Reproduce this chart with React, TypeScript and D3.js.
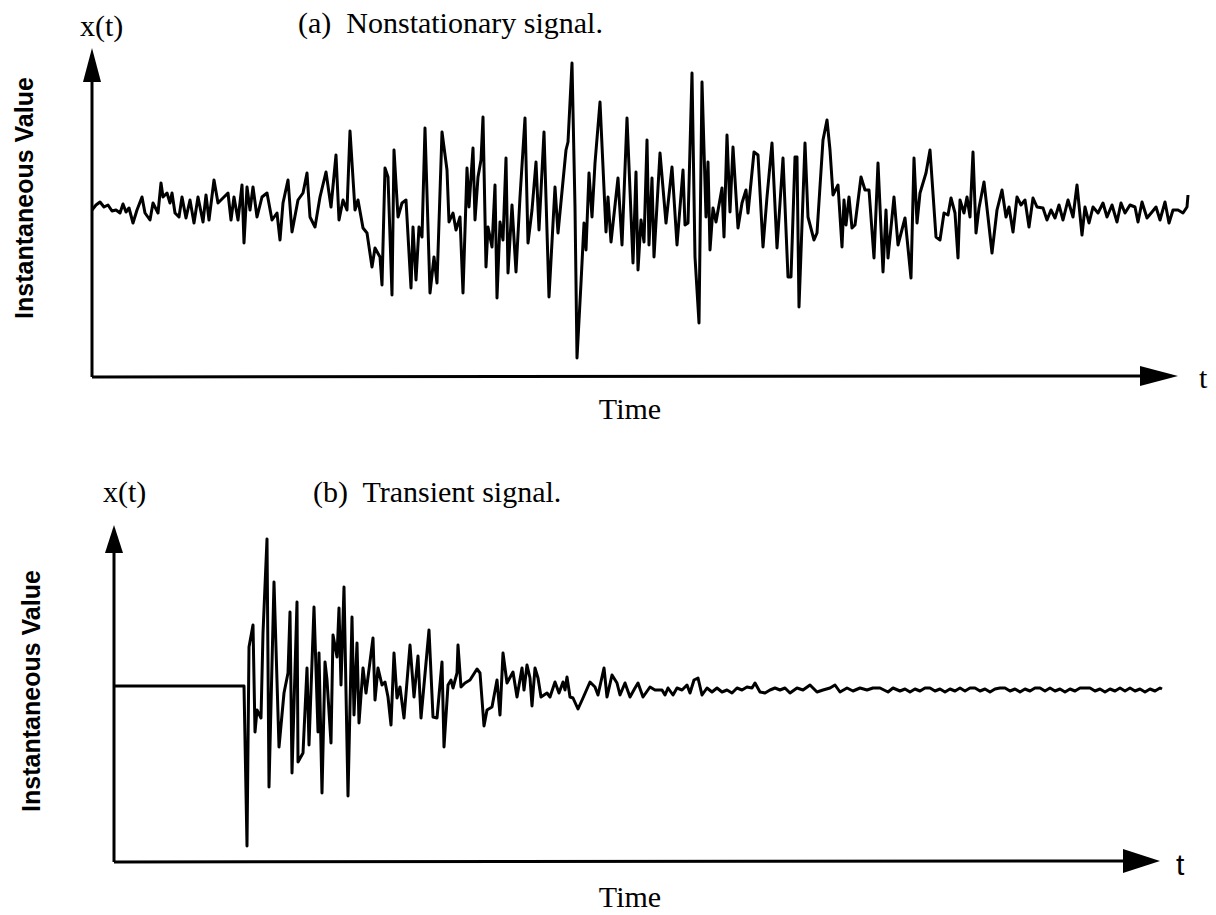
import { useEffect, useRef } from "react";
import * as d3 from "d3";

type Sample = [number, number];

// (a) nonstationary record, [time, amplitude]
const nonstationary: Sample[] = [
  [0, 0], [4, 5], [8, 8], [12, 3], [16, 5], [20, -1], [24, 0], [28, -3], [31, 6], [34, -2],
  [37, 2], [41, -13], [45, 0], [50, 13], [53, -3], [58, -10], [61, 7], [66, -3], [69, 27], [71, 13],
  [75, 17], [78, 7], [80, 17], [83, -3], [87, -7], [90, 13], [94, -8], [98, 10], [102, -13], [106, 13],
  [111, -12], [114, 15], [117, -10], [122, 30], [126, 7], [131, 12], [136, 17], [139, -10], [142, 13], [146, -10],
  [150, 25], [152, -33], [155, 23], [158, 0], [161, 23], [165, -7], [170, 13], [175, 17], [180, -10], [185, -3],
  [188, -30], [191, 7], [196, 30], [200, -22], [206, 10], [211, 17], [215, 37], [218, -7], [223, -17], [228, 13],
  [234, 38], [239, 3], [244, 55], [247, -10], [251, 10], [255, 0], [258, 79], [263, 0], [266, 10], [271, -18],
  [275, -23], [280, -57], [283, -38], [288, -47], [290, -75], [293, 42], [296, 33], [300, -85], [302, 60], [306, -7],
  [310, 7], [314, 10], [319, -78], [321, -17], [324, -70], [327, -17], [330, -27], [333, 82], [338, -83], [342, -47],
  [345, -73], [350, 78], [355, 40], [357, -12], [361, -3], [364, -20], [368, -7], [371, -83], [375, 42], [377, 3],
  [381, 62], [383, -10], [386, 33], [389, 50], [391, 93], [394, -57], [396, -17], [400, -37], [403, 25], [405, -88],
  [408, -12], [411, -30], [414, 52], [416, -63], [420, 5], [424, -62], [428, 13], [433, 92], [436, -33], [440, 0],
  [444, 48], [447, -20], [452, 78], [457, -87], [463, 23], [466, -23], [474, 60], [476, 68], [480, 147], [483, 3],
  [485, -148], [489, -73], [492, -13], [494, -40], [497, 37], [500, -7], [503, 47], [508, 108], [514, -22], [516, 13],
  [519, -32], [526, 32], [530, -35], [535, 92], [541, -53], [544, 38], [546, -60], [549, -10], [552, -32], [555, 70],
  [557, -35], [560, 32], [562, -47], [568, 57], [574, -13], [580, 43], [585, -35], [591, 40], [593, -15], [596, -13],
  [600, 137], [603, -47], [607, -113], [610, 128], [614, -7], [616, 48], [618, -40], [621, 2], [624, -12], [630, 22],
  [632, -27], [635, 75], [638, -2], [641, 63], [646, -18], [650, 7], [654, 20], [656, -3], [662, 58], [666, 55],
  [671, -37], [675, 13], [680, 67], [685, -38], [691, 52], [696, -67], [699, -67], [703, 53], [705, 53], [707, -97],
  [713, 67], [716, -7], [722, -30], [725, -23], [731, 70], [735, 90], [738, 60], [741, 15], [746, 25], [750, -37],
  [752, 10], [754, -15], [757, 13], [760, -18], [763, -15], [769, 33], [773, 20], [777, 20], [782, -48], [786, 47],
  [791, -62], [794, 0], [796, -48], [802, 13], [806, -35], [813, -8], [819, -68], [822, 52], [825, -13], [828, 17],
  [834, 37], [838, 60], [844, -27], [848, -30], [852, -3], [856, -5], [859, 12], [863, -3], [866, -48], [868, 10],
  [872, -3], [875, 13], [878, -7], [881, 58], [884, -23], [887, 2], [892, 28], [896, -7], [900, -43], [905, 0],
  [910, 20], [914, -7], [917, 3], [921, -22], [925, 13], [929, 5], [933, 10], [937, -17], [941, 12], [945, 3],
  [951, 2], [955, -10], [959, 0], [963, -8], [967, 5], [971, -10], [976, 10], [981, -7], [985, 25], [990, -25],
  [993, 3], [997, -13], [1001, 3], [1006, -3], [1011, 7], [1015, -7], [1020, 5], [1025, -12], [1029, 7], [1033, -3],
  [1038, 5], [1043, 3], [1046, -12], [1050, 8], [1055, -8], [1060, -2], [1064, 3], [1068, -10], [1073, 8], [1077, -13],
  [1081, 0], [1086, 0], [1091, -3], [1095, 3], [1096, 15],
];

// (b) transient record: flat, a step down, then a decaying ring
const transient: Sample[] = [
  [0, 0], [130, 0], [133, -160], [135, 39], [139, 61], [141, -46], [143, -24], [147, -32], [149, 53], [153, 147],
  [155, -101], [160, 104], [165, -61], [170, -7], [174, 13], [176, 74], [178, -87], [183, 84], [184, -76], [189, -67],
  [193, 18], [195, -59], [200, 79], [204, -46], [205, 33], [208, -107], [211, 24], [213, 6], [217, -57], [219, 51],
  [223, 29], [225, 78], [227, 1], [230, 99], [234, -110], [238, 69], [240, -29], [243, 43], [245, -37], [249, 18],
  [252, -7], [259, 48], [261, -14], [264, 18], [268, 1], [271, 4], [274, -11], [277, -39], [280, 33], [283, -12],
  [286, -1], [290, -32], [296, 41], [300, -11], [304, 30], [307, -32], [315, 56], [319, -31], [323, -32], [328, 24],
  [330, -61], [334, 1], [337, 6], [339, -2], [343, 13], [344, 41], [347, -1], [351, 3], [356, 6], [363, 17],
  [366, 13], [370, -40], [373, -24], [378, -21], [383, 6], [386, -29], [389, 33], [393, 3], [399, 14], [403, -11],
  [408, 18], [410, -4], [413, 21], [416, 8], [418, -20], [421, 18], [424, 8], [427, -11], [433, -7], [436, -11],
  [441, 4], [445, -7], [449, 4], [451, -4], [453, 9], [456, -11], [459, -12], [464, -23], [469, -12], [476, 4],
  [481, -1], [484, -9], [490, 18], [493, -11], [498, 11], [503, 3], [506, -9], [511, 3], [516, -11], [521, -2],
  [524, 3], [529, -11], [536, -1], [541, -4], [548, -4], [551, -9], [554, -2], [559, -9], [563, -2], [568, -4],
  [573, 1], [576, -7], [580, 6], [584, 8], [588, -9], [593, -2], [598, -6], [603, -2], [608, -6], [613, -4],
  [618, -7], [623, -2], [628, -4], [633, -1], [638, -2], [641, 3], [646, -6], [651, -7], [656, -4], [661, -2],
  [666, -4], [671, -2], [676, -7], [683, -2], [689, -4], [696, 1], [703, -6], [709, -4], [716, -2], [721, 1],
  [726, -6], [733, -2], [739, -5], [746, -2], [753, -4], [759, -2], [766, -2], [774, -6], [779, -2], [786, -5],
  [791, -3], [796, -6], [801, -3], [806, -5], [811, -2], [816, -2], [821, -5], [826, -3], [831, -6], [836, -3],
  [841, -5], [846, -2], [851, -5], [856, -2], [861, -2], [866, -5], [871, -3], [876, -6], [881, -3], [886, -2],
  [891, -2], [896, -5], [901, -3], [906, -6], [911, -3], [916, -5], [921, -2], [926, -2], [931, -5], [936, -2],
  [941, -5], [946, -3], [951, -6], [956, -3], [961, -5], [966, -2], [971, -2], [976, -2], [981, -5], [986, -3],
  [991, -6], [996, -3], [1001, -5], [1006, -2], [1011, -5], [1016, -2], [1021, -5], [1026, -3], [1031, -6], [1036, -3],
  [1041, -5], [1046, -2], [1048, -3],
];

const panelTitles = ["(a)  Nonstationary signal.", "(b)  Transient signal."];
const yName = "x(t)";
const xName = "t";
const yLabel = "Instantaneous Value";
const xLabel = "Time";

type Panel = {
  data: Sample[];
  title: string;
  tDomain: [number, number];
  vDomain: [number, number];
  xRange: [number, number];
  yRange: [number, number];
  xTip: number;
  xHead: [number, number];
  yHead: [number, number];
  yNamePos: [number, number];
  titlePos: [number, number];
  tPos: [number, number];
  tFont: string;
  timeY: number;
  labelPos: [number, number];
};

const serif = "'Liberation Serif', 'Times New Roman', serif";
const sans = "'Liberation Sans', Arial, sans-serif";

const panels: Panel[] = [
  {
    data: nonstationary,
    title: panelTitles[0],
    tDomain: [0, 1096],
    vDomain: [-166, 162],
    xRange: [92, 1188],
    yRange: [376, 48],
    xTip: 1178,
    xHead: [38, 10],
    yHead: [34, 9],
    yNamePos: [80, 36],
    titlePos: [298, 33],
    tPos: [1199, 388],
    tFont: serif,
    timeY: 419,
    labelPos: [33, 198],
  },
  {
    data: transient,
    title: panelTitles[1],
    tDomain: [0, 1048],
    vDomain: [-175, 161],
    xRange: [114, 1162],
    yRange: [861, 525],
    xTip: 1160,
    xHead: [37, 12],
    yHead: [28, 9],
    yNamePos: [103, 502],
    titlePos: [313, 502],
    tPos: [1176, 875],
    tFont: sans,
    timeY: 907,
    labelPos: [40, 691],
  },
];

export default function App() {
  const svgRef = useRef<SVGSVGElement | null>(null);

  useEffect(() => {
    const svgEl = svgRef.current;
    if (!svgEl) return;
    const svg = d3.select(svgEl);
    svg.selectAll("*").remove();

    panels.forEach((p) => {
      const x = d3.scaleLinear().domain(p.tDomain).range(p.xRange);
      const y = d3.scaleLinear().domain(p.vDomain).range(p.yRange);
      const g = svg.append("g");
      const x0 = p.xRange[0];
      const yBase = p.yRange[0];
      const yTop = p.yRange[1];

      // axes with arrow heads
      g.append("line")
        .attr("x1", x0).attr("y1", yBase + 1)
        .attr("x2", p.xTip - p.xHead[0] + 2).attr("y2", yBase)
        .attr("stroke", "#000").attr("stroke-width", 3);
      g.append("line")
        .attr("x1", x0).attr("y1", yBase + 1)
        .attr("x2", x0).attr("y2", yTop + p.yHead[0] - 2)
        .attr("stroke", "#000").attr("stroke-width", 3);
      g.append("path")
        .attr("d", `M${p.xTip},${yBase}L${p.xTip - p.xHead[0]},${yBase - p.xHead[1]}L${p.xTip - p.xHead[0]},${yBase + p.xHead[1]}Z`)
        .attr("fill", "#000");
      g.append("path")
        .attr("d", `M${x0},${yTop}L${x0 - p.yHead[1]},${yTop + p.yHead[0]}L${x0 + p.yHead[1]},${yTop + p.yHead[0]}Z`)
        .attr("fill", "#000");

      const line = d3.line<Sample>().x((d) => x(d[0])).y((d) => y(d[1]));
      g.append("path")
        .datum(p.data)
        .attr("d", line)
        .attr("fill", "none")
        .attr("stroke", "#000")
        .attr("stroke-width", 3)
        .attr("stroke-linejoin", "round");

      g.append("text")
        .attr("x", p.yNamePos[0]).attr("y", p.yNamePos[1])
        .attr("font-family", serif).attr("font-size", 30)
        .text(yName);
      g.append("text")
        .attr("x", p.titlePos[0]).attr("y", p.titlePos[1])
        .attr("font-family", serif).attr("font-size", 30)
        .style("white-space", "pre")
        .text(p.title);
      g.append("text")
        .attr("x", p.tPos[0]).attr("y", p.tPos[1])
        .attr("font-family", p.tFont).attr("font-size", 30)
        .text(xName);
      g.append("text")
        .attr("x", 630).attr("y", p.timeY)
        .attr("text-anchor", "middle")
        .attr("font-family", serif).attr("font-size", 30)
        .text(xLabel);
      g.append("text")
        .attr("transform", `translate(${p.labelPos[0]},${p.labelPos[1]}) rotate(-90)`)
        .attr("text-anchor", "middle")
        .attr("font-family", sans).attr("font-size", 25).attr("font-weight", 700)
        .text(yLabel);
    });
  }, []);

  return (
    <svg
      ref={svgRef}
      width={1216}
      height={915}
      viewBox="0 0 1216 915"
      style={{ position: "absolute", left: 0, top: 0, background: "#fff" }}
    />
  );
}
